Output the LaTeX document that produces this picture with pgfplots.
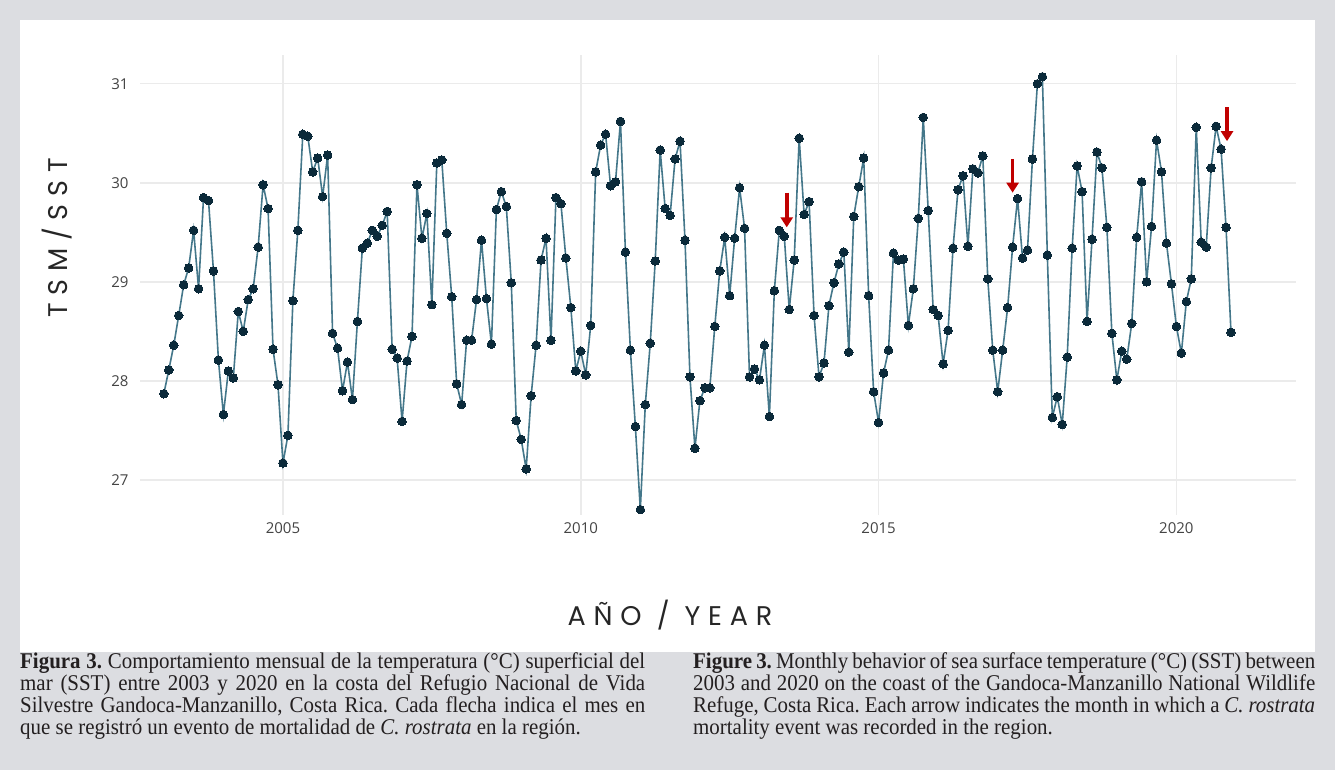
\documentclass[border=0pt]{standalone}
\usepackage{fontspec}
\usepackage{pgfplots}
\usepackage{pgfplotstable}
\pgfplotsset{compat=1.18}
\usetikzlibrary{arrows.meta}
\setmainfont{Liberation Serif}
\newfontfamily\capfont[FakeStretch=0.93]{Liberation Serif}
\newfontfamily\tickfont{Open Sans}
\newfontfamily\titlefont[LetterSpace=29]{Poppins}
\definecolor{bggrey}{HTML}{DCDDE1}
\definecolor{gridgrey}{HTML}{EBEBEB}
\definecolor{linecol}{HTML}{44778A}
\definecolor{dotcol}{HTML}{0B2A3A}
\definecolor{arrowred}{HTML}{C00000}
\definecolor{ticktext}{HTML}{444444}
\definecolor{captext}{HTML}{231F20}
\pgfplotstableread{
y
27.87
28.11
28.36
28.66
28.97
29.14
29.52
28.93
29.85
29.82
29.11
28.21
27.66
28.10
28.03
28.70
28.50
28.82
28.93
29.35
29.98
29.74
28.32
27.96
27.17
27.45
28.81
29.52
30.49
30.47
30.11
30.25
29.86
30.28
28.48
28.33
27.90
28.19
27.81
28.60
29.34
29.39
29.52
29.46
29.57
29.71
28.32
28.23
27.59
28.20
28.45
29.98
29.44
29.69
28.77
30.20
30.23
29.49
28.85
27.97
27.76
28.41
28.41
28.82
29.42
28.83
28.37
29.73
29.91
29.76
28.99
27.60
27.41
27.11
27.85
28.36
29.22
29.44
28.41
29.85
29.79
29.24
28.74
28.10
28.30
28.06
28.56
30.11
30.38
30.49
29.97
30.01
30.62
29.30
28.31
27.54
26.70
27.76
28.38
29.21
30.33
29.74
29.67
30.24
30.42
29.42
28.04
27.32
27.80
27.93
27.93
28.55
29.11
29.45
28.86
29.44
29.95
29.54
28.04
28.12
28.01
28.36
27.64
28.91
29.52
29.46
28.72
29.22
30.45
29.68
29.81
28.66
28.04
28.18
28.76
28.99
29.18
29.30
28.29
29.66
29.96
30.25
28.86
27.89
27.58
28.08
28.31
29.29
29.22
29.23
28.56
28.93
29.64
30.66
29.72
28.72
28.66
28.17
28.51
29.34
29.93
30.07
29.36
30.14
30.10
30.27
29.03
28.31
27.89
28.31
28.74
29.35
29.84
29.24
29.32
30.24
31.00
31.07
29.27
27.63
27.84
27.56
28.24
29.34
30.17
29.91
28.60
29.43
30.31
30.15
29.55
28.48
28.01
28.30
28.22
28.58
29.45
30.01
29.00
29.56
30.43
30.11
29.39
28.98
28.55
28.28
28.80
29.03
30.56
29.40
29.35
30.15
30.57
30.34
29.55
28.49
}\sstdata
\begin{document}
\frenchspacing
\begin{tikzpicture}[x=1pt,y=1pt]
\fill[bggrey] (0,0) rectangle (1335,770);
\fill[white] (20,118) rectangle (1315,750);
\begin{axis}[
  at={(140pt,255pt)}, anchor=south west,
  scale only axis, width=1156pt, height=460pt,
  xmin=-4.8, xmax=228.1, ymin=26.646, ymax=31.29,
  clip=false,
  axis line style={draw=none},
  tick style={draw=none},
  grid=major,
  major grid style={draw=gridgrey, line width=1.5pt},
  xtick={24,84,144,204},
  xticklabels={2005,2010,2015,2020},
  ytick={27,28,29,30,31},
  /pgf/number format/assume math mode=true,
  ticklabel style={font=\tickfont\fontsize{15}{18}\selectfont, text=ticktext},
  yticklabel style={xshift=-8pt},
  xticklabel style={yshift=-4pt},
]
\addplot[color=linecol, line width=1.6pt, mark=*, mark size=4.3pt,
  mark options={fill=dotcol, draw=dotcol, line width=0pt}]
  table[x expr=\coordindex, y=y] {\sstdata};
\draw[arrowred, line width=3.5pt, -{Triangle[length=10pt,width=12pt]}]
  (axis cs:125.5,29.90) -- (axis cs:125.5,29.55);
\draw[arrowred, line width=3.5pt, -{Triangle[length=10pt,width=12pt]}]
  (axis cs:171,30.24) -- (axis cs:171,29.90);
\draw[arrowred, line width=3.5pt, -{Triangle[length=10pt,width=12pt]}]
  (axis cs:214.2,30.76) -- (axis cs:214.2,30.42);
\end{axis}
\node[rotate=90, font=\titlefont\fontsize{27}{30}\selectfont, text=black!85] at (57,532) {TSM/SST};
\node[font=\titlefont\fontsize{27}{30}\selectfont, text=black!85] at (670,155) {AÑO / YEAR};
\node[anchor=base west, text width=625pt, align=justify, inner sep=0pt,
  font=\capfont\fontsize{22.5}{21.8}\selectfont, text=captext] at (20,101)
  {\tolerance=10000\hyphenpenalty=10000\exhyphenpenalty=10000\textbf{Figura 3.} Comportamiento mensual de la temperatura (°C) superficial del\linebreak
  mar (SST) entre 2003 y 2020 en la costa del Refugio Nacional de Vida\linebreak
  Silvestre Gandoca-Manzanillo, Costa Rica. Cada flecha indica el mes en\linebreak
  que se registró un evento de mortalidad de \textit{C. rostrata} en la región.};
\node[anchor=base west, text width=622pt, align=justify, inner sep=0pt,
  font=\capfont\fontsize{22.5}{21.8}\selectfont, text=captext] at (693,101)
  {\tolerance=10000\hyphenpenalty=10000\exhyphenpenalty=10000\textbf{Figure 3.} Monthly behavior of sea surface temperature (°C) (SST) between\linebreak
  2003 and 2020 on the coast of the Gandoca-Manzanillo National Wildlife\linebreak
  Refuge, Costa Rica. Each arrow indicates the month in which a \textit{C. rostrata}\linebreak
  mortality event was recorded in the region.};
\end{tikzpicture}
\end{document}
